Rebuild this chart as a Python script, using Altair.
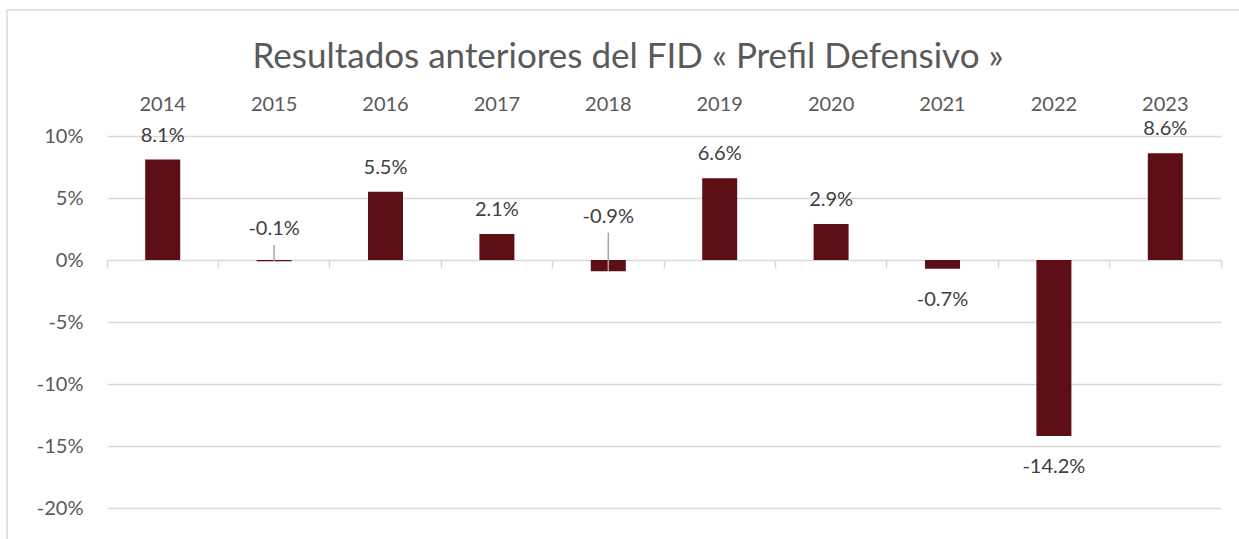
import altair as alt
import pandas as pd

# ---- data ----
years = ["2014", "2015", "2016", "2017", "2018", "2019", "2020", "2021", "2022", "2023"]
returns = [8.1, -0.1, 5.5, 2.1, -0.9, 6.6, 2.9, -0.7, -14.2, 8.6]
value_labels = ["8.1%", "-0.1%", "5.5%", "2.1%", "-0.9%", "6.6%", "2.9%", "-0.7%", "-14.2%", "8.6%"]
# labels that were moved by hand above the axis (in % units), with a leader line
moved_label_pos = [None, 2.0, None, None, 3.0, None, None, None, None, None]
y_ticks = [-20, -15, -10, -5, 0, 5, 10]

title_text = "Resultados anteriores del FID « Prefil Defensivo »"

FONT = "Lato"
BAR = "#5E0F15"
GRID = "#D9D9D9"
AXIS_TXT = "#595959"
LABEL_TXT = "#404040"

placement = []
for r, m in zip(returns, moved_label_pos):
    if m is not None:
        placement.append("moved")
    elif r >= 0:
        placement.append("above")
    else:
        placement.append("below")

df = pd.DataFrame({
    "year": years,
    "ret": returns,
    "label": value_labels,
    "lab_pos": moved_label_pos,
    "placement": placement,
})
df["lead_top"] = df["lab_pos"] - 0.8

yscale = alt.Scale(domain=[-20, 10], nice=False, zero=False)
xscale = alt.Scale(paddingInner=0, paddingOuter=0)

base = alt.Chart(df)
one = pd.DataFrame({"t": [title_text]})

frame = alt.Chart(one).mark_rect(
    fill=None, stroke=GRID, strokeWidth=1.5
).encode(
    x=alt.value(-100), y=alt.value(-126), x2=alt.value(1300), y2=alt.value(600)
)

title = alt.Chart(one).mark_text(
    font=FONT, fontSize=35, color=AXIS_TXT, align="center", baseline="alphabetic"
).encode(
    x=alt.value(521), y=alt.value(-68), text="t:N"
)

bars = base.mark_bar(size=35, color=BAR).encode(
    x=alt.X("year:N", sort=years, scale=xscale, title=None,
            axis=alt.Axis(orient="bottom", offset=-248, labels=False, domain=False,
                          ticks=True, tickSize=8, tickColor=GRID, tickWidth=1.5,
                          bandPosition=1, tickExtra=True, grid=False)),
    y=alt.Y("ret:Q", scale=yscale, title=None,
            axis=alt.Axis(values=y_ticks, labelExpr="datum.value + '%'",
                          labelFont=FONT, labelFontSize=20, labelColor=AXIS_TXT,
                          labelPadding=24, ticks=False, domain=False,
                          grid=True, gridColor=GRID, gridWidth=1.5)),
)

txt_kw = dict(font=FONT, fontSize=20, color=LABEL_TXT, align="center", baseline="alphabetic")

above = base.transform_filter("datum.placement == 'above'").mark_text(dy=-18, **txt_kw).encode(
    x=alt.X("year:N", sort=years, title=None,
            axis=alt.Axis(orient="top", labelFont=FONT, labelFontSize=20, labelColor=AXIS_TXT,
                          labelPadding=22, labelAngle=0, ticks=False, domain=False, grid=False)),
    y=alt.Y("ret:Q", scale=yscale, axis=None),
    text="label:N",
)

below = base.transform_filter("datum.placement == 'below'").mark_text(dy=37, **txt_kw).encode(
    x=alt.X("year:N", sort=years, axis=None),
    y=alt.Y("ret:Q", scale=yscale, axis=None),
    text="label:N",
)

moved = base.transform_filter("datum.placement == 'moved'").mark_text(dy=0, **txt_kw).encode(
    x=alt.X("year:N", sort=years, axis=None),
    y=alt.Y("lab_pos:Q", scale=yscale, axis=None),
    text="label:N",
)

leaders = base.transform_filter("datum.placement == 'moved'").mark_rule(
    color="#A6A6A6", strokeWidth=1.5
).encode(
    x=alt.X("year:N", sort=years, axis=None),
    y=alt.Y("ret:Q", scale=yscale, axis=None),
    y2="lead_top:Q",
)

chart = alt.layer(frame, bars, leaders, above, below, moved, title).resolve_axis(
    x="independent", y="independent"
).properties(
    width=1114,
    height=372,
    autosize=alt.AutoSizeParams(type="none"),
    padding={"left": 107, "top": 136, "right": 18, "bottom": 31},
    background="white",
).configure_view(stroke="transparent", strokeWidth=0)

chart.save("out.html", embed_options={"renderer": "svg", "actions": False})
